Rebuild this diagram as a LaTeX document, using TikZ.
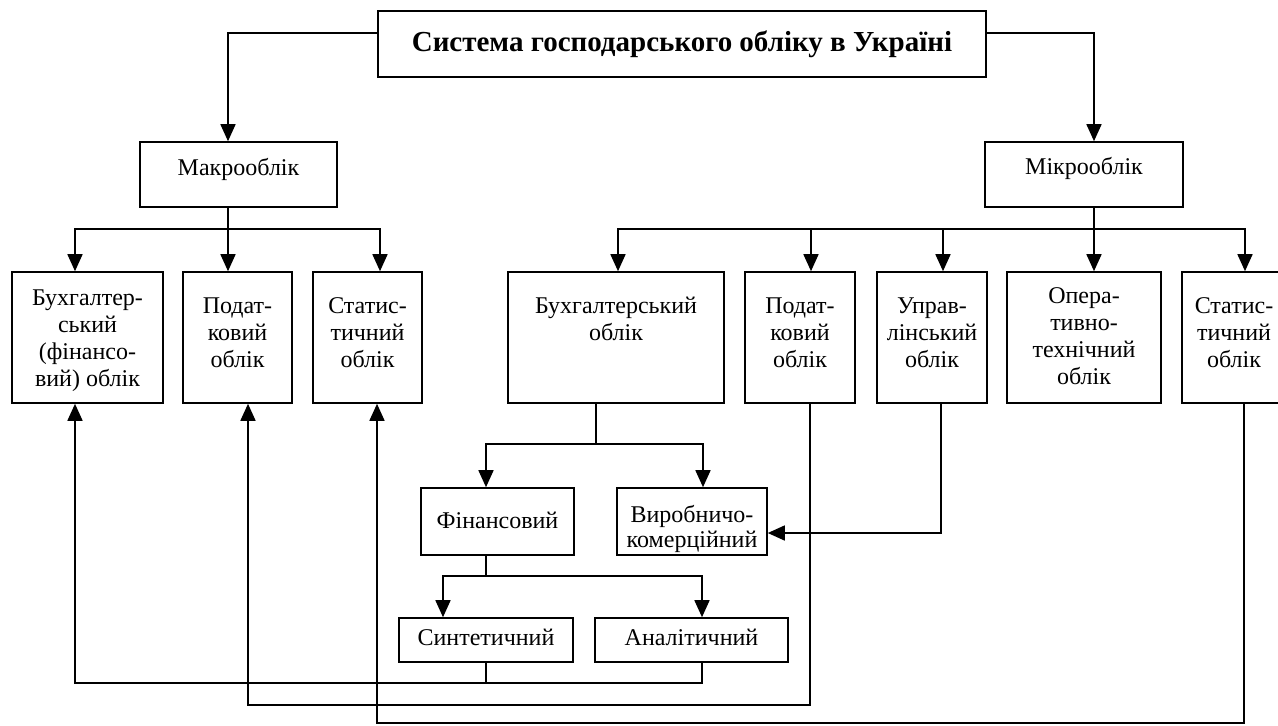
\documentclass[tikz,border=0pt]{standalone}
\usepackage{fontspec}
\setmainfont{Liberation Serif}
\usetikzlibrary{arrows.meta}
\begin{document}
\begin{tikzpicture}[x=1pt,y=-1pt,
  box/.style={draw, line width=1.6pt, inner sep=0pt},
  lbl/.style={font=\fontsize{24}{27}\selectfont, align=center, inner sep=0pt},
  ttl/.style={font=\fontsize{29}{33}\selectfont\bfseries, inner sep=0pt},
  conn/.style={line width=1.6pt},
  arr/.style={conn, -{Triangle[length=17pt,width=15pt]}},
]
\useasboundingbox (0,0) rectangle (1278,726);
\fill[white] (0,0) rectangle (1278,726);

% boxes
\node[box, minimum width=608pt, minimum height=66pt] (title) at (682,44) {};
\node[box, minimum width=197pt, minimum height=65pt] (makro) at (238.5,174.5) {};
\node[box, minimum width=198pt, minimum height=65pt] (mikro) at (1084,174.5) {};

\node[box, minimum width=151pt, minimum height=131pt] (L1) at (87.5,337.5) {};
\node[box, minimum width=109pt, minimum height=131pt] (L2) at (237.5,337.5) {};
\node[box, minimum width=109pt, minimum height=131pt] (L3) at (367.5,337.5) {};

\node[box, minimum width=216pt, minimum height=131pt] (R1) at (616,337.5) {};
\node[box, minimum width=110pt, minimum height=131pt] (R2) at (800,337.5) {};
\node[box, minimum width=110pt, minimum height=131pt] (R3) at (932,337.5) {};
\node[box, minimum width=154pt, minimum height=131pt] (R4) at (1084,337.5) {};
\node[box, minimum width=104pt, minimum height=131pt] (R5) at (1234,337.5) {};

\node[box, minimum width=153pt, minimum height=67pt] (fin) at (497.5,521.5) {};
\node[box, minimum width=150pt, minimum height=67pt] (vyr) at (692,521.5) {};
\node[box, minimum width=174pt, minimum height=44pt] (syn) at (486,640) {};
\node[box, minimum width=193pt, minimum height=44pt] (ana) at (691.5,640) {};

% texts
\node[ttl, anchor=base] (titleT) at (682,51) {Система господарського обліку в Україні};
\node[lbl, anchor=base] (makroT) at (238.5,175) {Макрооблік};
\node[lbl, anchor=base] (mikroT) at (1084,174) {Мікрооблік};

\node[lbl, anchor=north] (L1T) at (87.5,286) {\strut Бухгалтер-\\ський\\(фінансо-\\вий) облік};
\node[lbl, anchor=north] (L2T) at (237.5,294) {\strut Подат-\\ковий\\облік};
\node[lbl, anchor=north] (L3T) at (367.5,294) {\strut Статис-\\тичний\\облік};

\node[lbl, anchor=north] (R1T) at (616,294) {\strut Бухгалтерський\\облік};
\node[lbl, anchor=north] (R2T) at (800,294) {\strut Подат-\\ковий\\облік};
\node[lbl, anchor=north] (R3T) at (932,294) {\strut Управ-\\лінський\\облік};
\node[lbl, anchor=north] (R4T) at (1084,284) {\strut Опера-\\тивно-\\технічний\\облік};
\node[lbl, anchor=north] (R5T) at (1234,294) {\strut Статис-\\тичний\\облік};

\node[lbl, anchor=base] (finT) at (497.5,528) {Фінансовий};
\node[lbl, anchor=north, font=\fontsize{24}{25.5}\selectfont] (vyrT) at (692,504) {\strut Виробничо-\\комерційний};
\node[lbl, anchor=base] (synT) at (486,645) {Синтетичний};
\node[lbl, anchor=base] (anaT) at (691.5,645) {Аналітичний};

% junction coordinates
\coordinate (mb) at (228,229);
\coordinate (rb) at (1094,229);
\coordinate (b1) at (596,444);
\coordinate (b2) at (486,576);
\coordinate (j1) at (75,683);
\coordinate (j2) at (248,705);
\coordinate (j3) at (377,723);

% top level
\draw[arr] ([yshift=11pt]title.west) -| ([xshift=-10.5pt]makro.north);
\draw[arr] ([yshift=11pt]title.east) -| ([xshift=10pt]mikro.north);

% macro branch
\draw[conn] ([xshift=-10.5pt]makro.south) -- (mb);
\draw[arr] (mb) -| ([xshift=-12.5pt]L1.north);
\draw[arr] (mb) -- ([xshift=-9.5pt]L2.north);
\draw[arr] (mb) -| ([xshift=12.5pt]L3.north);

% micro branch
\draw[conn] ([xshift=10pt]mikro.south) -- (rb);
\draw[arr] (rb) -| ([xshift=2pt]R1.north);
\draw[arr] (rb) -| ([xshift=11pt]R2.north);
\draw[arr] (rb) -| ([xshift=11pt]R3.north);
\draw[arr] (rb) -- ([xshift=10pt]R4.north);
\draw[arr] (rb) -| ([xshift=11pt]R5.north);

% accounting split
\draw[conn] ([xshift=-20pt]R1.south) -- (b1);
\draw[arr] (b1) -| ([xshift=-11.5pt]fin.north);
\draw[arr] (b1) -| ([xshift=11pt]vyr.north);

% management -> production-commercial
\draw[arr] ([xshift=9pt]R3.south) |- ([yshift=-11.5pt]vyr.east);

% financial split
\draw[conn] ([xshift=-11.5pt]fin.south) -- (b2);
\draw[arr] (b2) -| ([xshift=-43pt]syn.north);
\draw[arr] (b2) -| ([xshift=10.5pt]ana.north);

% synthetic & analytical -> macro accounting
\draw[conn] (syn.south) -- (syn.south |- j1);
\draw[arr] ([xshift=10.5pt]ana.south) |- (j1) -- ([xshift=-12.5pt]L1.south);

% tax -> tax
\draw[arr] ([xshift=10pt]R2.south) |- (j2) -- ([xshift=10.5pt]L2.south);

% statistical -> statistical
\draw[arr] ([xshift=10pt]R5.south) |- (j3) -- ([xshift=9.5pt]L3.south);
\end{tikzpicture}
\end{document}
